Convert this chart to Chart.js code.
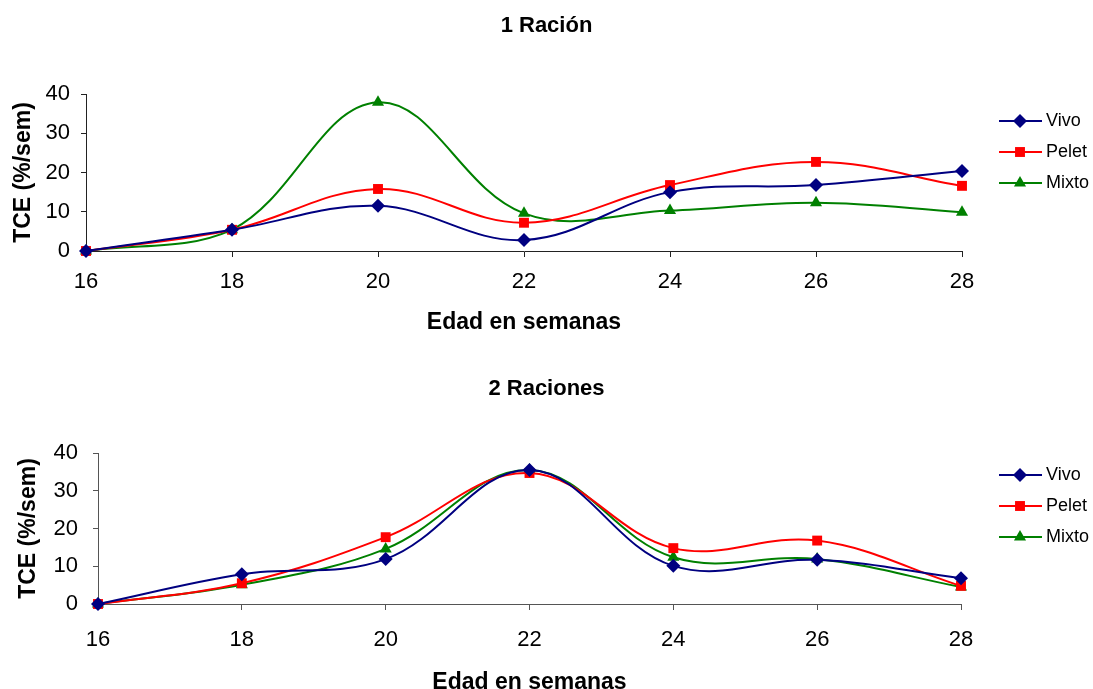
<!DOCTYPE html>
<html>
<head>
<meta charset="utf-8">
<script src="https://cdn.jsdelivr.net/npm/chart.js@4/dist/chart.umd.min.js"></script>
<style>
  html, body { margin: 0; padding: 0; background: #fff; overflow: hidden; }
  .panel { position: absolute; left: 0; width: 1093px; }
  #p1 { top: 0; height: 345px; }
  #p2 { top: 345px; height: 360px; }
</style>
</head>
<body>
<div class="panel" id="p1"><canvas id="chart1"></canvas></div>
<div class="panel" id="p2"><canvas id="chart2"></canvas></div>
<script>
// semanas de edad
const weeks = ['16', '18', '20', '22', '24', '26', '28'];
const yTicks = [0, 10, 20, 30, 40];

// 1 ración
const r1Vivo  = [0, 5.4, 11.5, 2.8, 15.0, 16.8, 20.4];
const r1Pelet = [0, 5.4, 15.8, 7.2, 16.8, 22.7, 16.6];
const r1Mixto = [0, 5.4, 37.9, 9.6, 10.3, 12.3, 9.9];

// 2 raciones
const r2Vivo  = [0, 7.9, 11.9, 35.5, 10.1, 11.7, 6.8];
const r2Pelet = [0, 5.5, 17.7, 34.7, 14.8, 16.8, 4.8];
const r2Mixto = [0, 5.1, 14.6, 35.5, 12.4, 11.9, 4.5];

const seriesNames = ['Vivo', 'Pelet', 'Mixto'];
const colors = ['#000080', '#ff0000', '#008000'];
const markers = ['rectRot', 'rect', 'triangle'];

const FONT = "'Liberation Sans', Arial, sans-serif";

function makeDatasets(values) {
    return values.map((v, i) => ({
        label: seriesNames[i],
        data: v,
        borderColor: colors[i],
        backgroundColor: colors[i],
        borderWidth: 2,
        pointStyle: markers[i],
        pointRadius: 7,
        pointHoverRadius: 7,
        pointBorderWidth: 0,
        tension: 0.38,
        clip: false
    }));
}

// título centrado sobre todo el lienzo (no sólo sobre el área del gráfico)
const centerTitle = {
    id: 'centerTitle',
    afterDraw(chart, args, opts) {
        const ctx = chart.ctx;
        ctx.save();
        ctx.fillStyle = '#000';
        ctx.font = 'bold 22px ' + FONT;
        ctx.textAlign = 'center';
        ctx.textBaseline = 'middle';
        ctx.fillText(opts.text, chart.width / 2, opts.y);
        ctx.restore();
    }
};

// leyenda a la derecha: línea con marcador en el centro
const sideLegend = {
    id: 'sideLegend',
    afterDraw(chart, args, opts) {
        const ctx = chart.ctx;
        ctx.save();
        chart.data.datasets.forEach((ds, i) => {
            const y = opts.y + i * opts.gap;
            ctx.strokeStyle = ds.borderColor;
            ctx.fillStyle = ds.borderColor;
            ctx.lineWidth = 2;
            ctx.beginPath();
            ctx.moveTo(opts.x, y);
            ctx.lineTo(opts.x + 43, y);
            ctx.stroke();
            Chart.helpers.drawPoint(ctx, { pointStyle: ds.pointStyle, radius: 7, rotation: 0, borderWidth: 0 }, opts.x + 21, y);
            ctx.fillStyle = '#000';
            ctx.font = '18px ' + FONT;
            ctx.textBaseline = 'middle';
            ctx.textAlign = 'left';
            ctx.fillText(ds.label, opts.x + 47, y);
        });
        ctx.restore();
    }
};

function buildChart(id, title, values, lay) {
    const ctx = document.getElementById(id).getContext('2d');
    return new Chart(ctx, {
        type: 'line',
        data: { labels: weeks, datasets: makeDatasets(values) },
        plugins: [centerTitle, sideLegend],
        options: {
            responsive: true,
            maintainAspectRatio: false,
            animation: false,
            layout: { padding: { left: 0, right: lay.right, top: lay.top, bottom: 0 } },
            plugins: {
                legend: { display: false },
                tooltip: { enabled: false },
                title: { display: false },
                centerTitle: { text: title, y: lay.titleY },
                sideLegend: { x: 999, y: lay.legendY, gap: 31 }
            },
            scales: {
                x: {
                    grid: { drawOnChartArea: false, drawTicks: true, tickLength: 6, color: lay.axisColor },
                    border: { display: true, color: lay.axisColor, width: 1 },
                    ticks: { color: '#000', font: { family: FONT, size: 22 }, padding: lay.xTickPad, maxRotation: 0 },
                    title: {
                        display: true,
                        text: 'Edad en semanas',
                        color: '#000',
                        font: { family: FONT, size: 23, weight: 'bold' },
                        padding: { top: 0, bottom: lay.xTitlePad }
                    },
                    afterFit(scale) { scale.height = lay.xHeight; }
                },
                y: {
                    min: 0,
                    max: 40,
                    afterBuildTicks(scale) { scale.ticks = yTicks.map(v => ({ value: v })); },
                    grid: { drawOnChartArea: false, drawTicks: true, tickLength: 5, color: lay.axisColor },
                    border: { display: true, color: lay.axisColor, width: 1 },
                    ticks: { color: '#000', font: { family: FONT, size: 22 }, padding: lay.yTickPad },
                    title: {
                        display: true,
                        text: 'TCE (%/sem)',
                        color: '#000',
                        font: { family: FONT, size: 23, weight: 'bold' },
                        padding: { top: lay.yTitlePad, bottom: 0 }
                    },
                    afterFit(scale) { scale.width = lay.yWidth; }
                }
            }
        }
    });
}

buildChart('chart1', '1 Ración', [r1Vivo, r1Pelet, r1Mixto], {
    right: 131, top: 94, titleY: 26,
    xHeight: 94, xTickPad: 12, xTitlePad: 9,
    yWidth: 86, yTickPad: 11, yTitlePad: 10,
    legendY: 121, axisColor: '#222'
});

buildChart('chart2', '2 Raciones', [r2Vivo, r2Pelet, r2Mixto], {
    right: 132, top: 108, titleY: 44,
    xHeight: 101, xTickPad: 17, xTitlePad: 9,
    yWidth: 98, yTickPad: 15, yTitlePad: 15,
    legendY: 130, axisColor: '#555'
});
</script>
</body>
</html>
